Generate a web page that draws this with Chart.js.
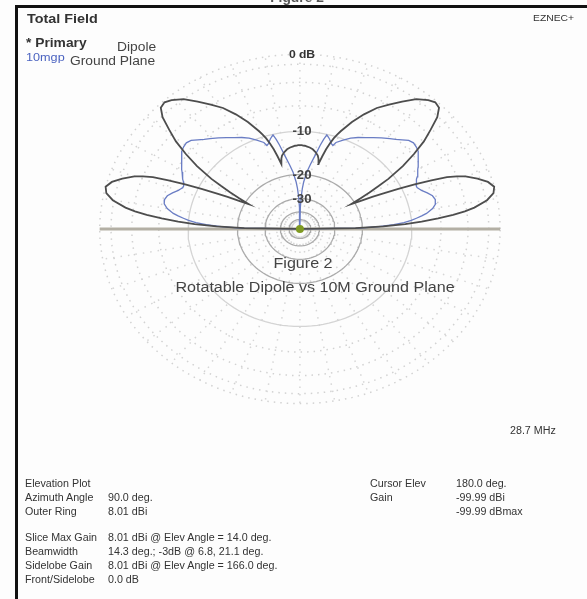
<!DOCTYPE html>
<html>
<head>
<meta charset="utf-8">
<script src="https://cdn.jsdelivr.net/npm/chart.js@4.4.1/dist/chart.umd.min.js"></script>
<style>
  body{margin:0;background:#fff;}
  #wrap{position:relative;width:587px;height:599px;overflow:hidden;background:#fdfdfd;font-family:"Liberation Sans",Arial,sans-serif;color:#333;}
  #plot{position:absolute;left:0;top:0;}
  .t{position:absolute;white-space:nowrap;line-height:1;transform:scaleX(1.15);transform-origin:0 0;}
  .c{position:absolute;white-space:nowrap;line-height:1;transform:translateX(-50%) scaleX(1.15);}
  .s{font-size:10px;transform:scaleX(1.07);}
  .ring{position:absolute;font-size:12px;font-weight:bold;color:#444;transform:translate(-50%,-50%) scaleX(1.1);}
</style>
</head>
<body>
<div id="wrap">
  <canvas id="plot" width="587" height="599"></canvas>
  <div style="position:absolute;left:15px;top:5px;width:572px;height:3px;background:#111"></div>
  <div style="position:absolute;left:15px;top:5px;width:3px;height:594px;background:#111"></div>
  <div class="c" style="left:297px;top:-8px;font-size:12px;font-weight:bold;color:#555">Figure 2</div>

  <div class="t" style="left:27px;top:13px;font-size:12.5px;font-weight:bold">Total Field</div>
  <div class="t" style="left:533px;top:14px;font-size:9px">EZNEC+</div>
  <div class="t" style="left:26px;top:37px;font-size:12px;font-weight:bold">* Primary</div>
  <div class="t" style="left:117px;top:41px;font-size:12px;color:#444">Dipole</div>
  <div class="t" style="left:26px;top:52px;font-size:11px;color:#4b63c0">10mgp</div>
  <div class="t" style="left:70px;top:55px;font-size:12px;color:#444">Ground Plane</div>

  <div class="c" style="left:303px;top:256px;font-size:14px;color:#444">Figure 2</div>
  <div class="c" style="left:315px;top:280px;font-size:14px;color:#444">Rotatable Dipole vs 10M Ground Plane</div>
  <div class="t s" style="left:510px;top:426px">28.7 MHz</div>

  <div class="t s" style="left:25px;top:479px">Elevation Plot</div>
  <div class="t s" style="left:25px;top:493px">Azimuth Angle</div>
  <div class="t s" style="left:25px;top:507px">Outer Ring</div>
  <div class="t s" style="left:108px;top:493px">90.0 deg.</div>
  <div class="t s" style="left:108px;top:507px">8.01 dBi</div>
  <div class="t s" style="left:25px;top:533px">Slice Max Gain</div>
  <div class="t s" style="left:25px;top:547px">Beamwidth</div>
  <div class="t s" style="left:25px;top:561px">Sidelobe Gain</div>
  <div class="t s" style="left:25px;top:575px">Front/Sidelobe</div>
  <div class="t s" style="left:108px;top:533px">8.01 dBi @ Elev Angle = 14.0 deg.</div>
  <div class="t s" style="left:108px;top:547px">14.3 deg.; -3dB @ 6.8, 21.1 deg.</div>
  <div class="t s" style="left:108px;top:561px">8.01 dBi @ Elev Angle = 166.0 deg.</div>
  <div class="t s" style="left:108px;top:575px">0.0 dB</div>
  <div class="t s" style="left:370px;top:479px">Cursor Elev</div>
  <div class="t s" style="left:370px;top:493px">Gain</div>
  <div class="t s" style="left:456px;top:479px">180.0 deg.</div>
  <div class="t s" style="left:456px;top:493px">-99.99 dBi</div>
  <div class="t s" style="left:456px;top:507px">-99.99 dBmax</div>
</div>
<script>
// elevation angles (deg), 0 = right horizon, 180 = left horizon
const elevAngles = [0,1,2,3,4,5,6,7,8,10,12,14,16,18,20,21,22,23,24,25,26,27,28,29,30,31,32,33,35,37,39,41,43,45,47,49,52,55,58,61,64,67,70,71,72,73,74,75,76,77,78,80,82,84,86,87,88,89,90,
  91,92,93,94,96,98,100,102,103,104,105,106,107,108,109,110,113,116,119,122,125,128,131,133,135,137,139,141,143,145,147,148,149,150,151,152,153,154,155,156,157,158,159,160,162,164,166,168,170,172,173,174,175,176,177,178,179,180];

// gain in dB relative to the outer ring (8.01 dBi)
const dipoleGain = [-99,-22,-15,-11,-8.5,-6.3,-4.5,-3.2,-2.2,-0.9,-0.2,0,-0.4,-1.2,-2.2,-3,-4,-5.8,-8,-10.5,-13,-15.5,-18.5,-21,-18,-15.5,-13.2,-11,-8,-5.8,-3.9,-2.5,-1.1,-0.3,-0.15,-0.4,-1.0,-2.0,-3.0,-4.0,-5.4,-7.0,-8.9,-9.6,-10.4,-11.5,-12.8,-14.5,-16.5,-15.2,-14.5,-13.8,-13.3,-13,-12.8,-12.7,-12.7,-12.6,-12.6,
  -12.6,-12.7,-12.7,-12.8,-13,-13.3,-13.8,-14.5,-15.2,-16.5,-14.5,-12.8,-11.5,-10.4,-9.6,-8.9,-7.0,-5.4,-4.0,-3.0,-2.0,-1.0,-0.4,-0.15,-0.3,-1.1,-2.5,-3.9,-5.8,-8,-11,-13.2,-15.5,-18,-21,-18.5,-15.5,-13,-10.5,-8,-5.8,-4,-3,-2.2,-1.2,-0.4,0,-0.2,-0.9,-2.2,-3.2,-4.5,-6.3,-8.5,-11,-15,-22,-99];

const groundPlaneGain = [-99,-21,-16,-13,-11.2,-10,-9.2,-8.4,-7.7,-6.8,-6.3,-6.2,-6.4,-6.9,-7.5,-7.7,-7.9,-7.9,-7.8,-7.6,-7.4,-7.2,-7.0,-6.8,-6.6,-6.4,-6.2,-6.0,-5.6,-5.2,-5.0,-4.9,-5.1,-5.6,-6.1,-6.5,-7.1,-7.7,-8.3,-8.8,-9.4,-10.2,-11.0,-11.7,-11.5,-11.1,-10.7,-10.4,-10.1,-11.0,-12.2,-14.8,-17,-19.2,-22.5,-25,-29,-36,-99,
  -36,-29,-25,-22.5,-19.2,-17,-14.8,-12.2,-11.0,-10.1,-10.4,-10.7,-11.1,-11.5,-11.7,-11.0,-10.2,-9.4,-8.8,-8.3,-7.7,-7.1,-6.5,-6.1,-5.6,-5.1,-4.9,-5.0,-5.2,-5.6,-6.0,-6.2,-6.4,-6.6,-6.8,-7.0,-7.2,-7.4,-7.6,-7.8,-7.9,-7.9,-7.7,-7.5,-6.9,-6.4,-6.2,-6.3,-6.8,-7.7,-8.4,-9.2,-10,-11.2,-13,-16,-21,-99];

// grid
const solidRings = [-10,-20,-30,-40,-50];
const dottedRings = [0,-1,-3,-6];
const spokeAngles = [0,10,20,30,40,50,60,70,80,90,100,110,120,130,140,150,160,170,180,190,200,210,220,230,240,250,260,270,280,290,300,310,320,330,340,350];
const ringLabels = ['0 dB','-10','-20','-30'];
const ringLabelDb = [0,-10,-20,-30];

// ARRL log scale: 0.89 per 2 dB
function arrl(db){ return Math.pow(0.89, -db/2); }
function pt(deg, db){
  const r = arrl(db), a = deg*Math.PI/180;
  return {x: r*Math.cos(a), y: r*Math.sin(a)};
}
function ring(db){
  let p=[];
  for(let a=0;a<=360;a+=3) p.push(pt(a,db));
  return p;
}

let datasets=[];
datasets.push({data: elevAngles.map((a,i)=>pt(a,dipoleGain[i])), borderColor:'#4d4d4d', borderWidth:1.8, order:0});
datasets.push({data: elevAngles.map((a,i)=>pt(a,groundPlaneGain[i])), borderColor:'#6a7dc4', borderWidth:1.3, order:1});
datasets.push({data:[pt(180,0),pt(0,0)], borderColor:'#b3afa4', borderWidth:3, order:2});
datasets.push({data:[{x:0,y:0}], pointRadius:4, pointBackgroundColor:'#7f9a22', pointBorderWidth:0, showLine:false, order:-1});
solidRings.forEach(db=>{
  datasets.push({data:ring(db), borderColor: db==-10?'#d4d4d4':'#ababab', borderWidth:1.3, order:5});
});
dottedRings.forEach(db=>{
  datasets.push({data:ring(db), borderColor:'#d2d2d2', borderWidth:1.5, borderDash:[1.5,5], order:6});
});
spokeAngles.forEach(a=>{
  datasets.push({data:[{x:0,y:0},pt(a,0)], borderColor:'#d6d6d6', borderWidth:1.5, borderDash:[1.5,6], order:7});
});
datasets.forEach(d=>{
  if(d.showLine===undefined) d.showLine=true;
  if(d.pointRadius===undefined) d.pointRadius=0;
  d.fill=false; d.tension=0;
});

const chart = new Chart(document.getElementById('plot'), {
  type:'scatter',
  data:{datasets},
  options:{
    responsive:false,
    animation:false,
    layout:{padding:0},
    plugins:{legend:{display:false}, tooltip:{enabled:false}},
    scales:{
      x:{type:'linear', display:false, min:-300/203, max:287/203},
      y:{type:'linear', display:false, min:-371/177, max:228/177}
    }
  }
});

// ring labels at the top of each ring
const wrap=document.getElementById('wrap');
ringLabels.forEach((txt,i)=>{
  let p=pt(90,ringLabelDb[i]);
  let d=document.createElement('div');
  d.className='ring';
  d.textContent=txt;
  d.style.left=(chart.scales.x.getPixelForValue(p.x)+2)+'px';
  d.style.top=chart.scales.y.getPixelForValue(p.y)+'px';
  if(i==0){d.style.fontSize='11px';d.style.color='#333';}
  wrap.appendChild(d);
});
</script>
</body>
</html>
